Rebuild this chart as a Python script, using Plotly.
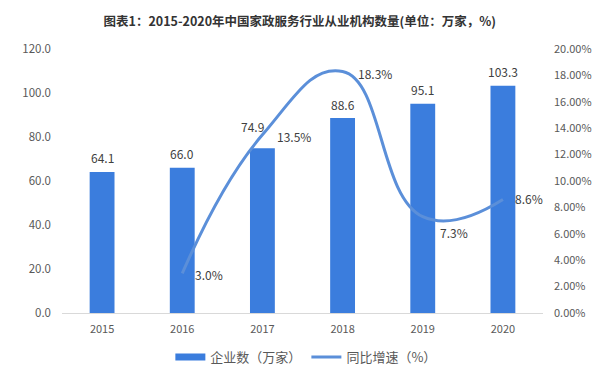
import plotly.graph_objects as go

years = ["2015", "2016", "2017", "2018", "2019", "2020"]
enterprises = [64.1, 66.0, 74.9, 88.6, 95.1, 103.3]
bar_label_xshift = [0, 0, -10, 0, 0, 0]
bar_label_yshift = [14, 14, 22, 14, 14, 14]
growth_years = ["2016", "2017", "2018", "2019", "2020"]
growth = [0.030, 0.135, 0.183, 0.073, 0.086]
growth_labels = ["3.0%", "13.5%", "18.3%", "7.3%", "8.6%"]
label_xshift = [11, 13, 13, 15, 10]
label_yshift = [-1, -2, -2, -16, 1]

bar_color = "#3b7ddd"
line_color = "#5b8fd9"
text_color = "#404040"
tick_color = "#595959"
font_family = "Noto Sans CJK SC, Noto Sans, sans-serif"

fig = go.Figure()
fig.add_trace(go.Bar(
    x=years, y=enterprises, name="企业数（万家）",
    marker=dict(color=bar_color, line=dict(width=0)),
    width=0.31, showlegend=False,
))
# legend entry styled like the reference's wide bar swatch
fig.add_trace(go.Scatter(
    x=[years[0]], y=[None], name="企业数（万家）", mode="lines",
    line=dict(color=bar_color, width=7), showlegend=True, hoverinfo="skip",
))
fig.add_trace(go.Scatter(
    x=growth_years, y=growth, name="同比增速（%）", yaxis="y2",
    mode="lines",
    line=dict(color=line_color, width=3, shape="spline", smoothing=1.3),
    cliponaxis=False,
))

annotations = []
for i, (v, dx, dy) in enumerate(zip(enterprises, bar_label_xshift, bar_label_yshift)):
    annotations.append(dict(
        x=i, y=v, xref="x", yref="y", text=f"{v:.1f}", showarrow=False,
        xanchor="center", yanchor="middle", xshift=dx, yshift=dy,
        font=dict(size=12, color=text_color, family=font_family),
    ))
for gx, gy, lab, dx, dy in zip(growth_years, growth, growth_labels, label_xshift, label_yshift):
    annotations.append(dict(
        x=years.index(gx), y=gy, xref="x", yref="y2", text=lab, showarrow=False,
        xanchor="left", yanchor="middle", xshift=dx, yshift=dy,
        font=dict(size=12, color=text_color, family=font_family),
    ))

# page has an 8px body margin, so the figure is 8px smaller and offsets shifted
fig.update_layout(
    width=592, height=364,
    margin=dict(l=54, r=57, t=41, b=59, autoexpand=False),
    paper_bgcolor="white", plot_bgcolor="white",
    font=dict(family=font_family, size=11, color=tick_color),
    title=dict(
        text="<b>图表1：2015-2020年中国家政服务行业从业机构数量(单位：万家，%)</b>",
        x=0.493, xanchor="center", y=0.962, yanchor="middle",
        font=dict(size=12.5, color="#333333", family=font_family),
    ),
    annotations=annotations,
    showlegend=True,
    legend=dict(
        orientation="h", x=0.507, xanchor="center", y=-0.167, yanchor="middle",
        font=dict(size=13, color=tick_color, family=font_family),
        traceorder="normal",
    ),
    xaxis=dict(
        type="category", categoryorder="array", categoryarray=years,
        range=[-0.5, len(years) - 0.5],
        showgrid=False, showline=True, linecolor="#d9d9d9", linewidth=1,
        ticks="", tickfont=dict(size=11, color=tick_color), zeroline=False,
        ticklabelstandoff=6,
    ),
    yaxis=dict(
        range=[0, 120], dtick=20, tickformat=".1f", showgrid=False, zeroline=False,
        showline=False, ticks="", tickfont=dict(size=11.5, color=tick_color),
        ticklabelstandoff=10,
    ),
    yaxis2=dict(
        range=[0, 0.2], dtick=0.02, tickformat=".2%", overlaying="y", side="right",
        showgrid=False, zeroline=False, showline=False, ticks="",
        tickfont=dict(size=11, color=tick_color), ticklabelstandoff=10,
    ),
)

fig.write_html("out.html")
